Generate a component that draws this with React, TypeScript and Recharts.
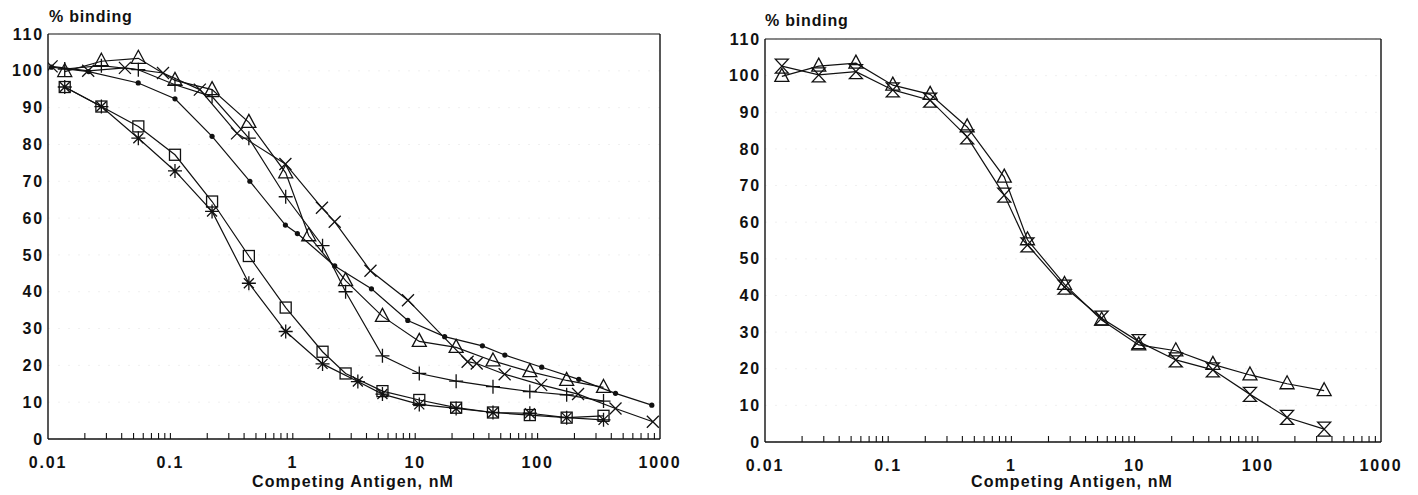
import { LineChart, Line, XAxis, YAxis, CartesianGrid, ReferenceLine } from "recharts";

const FONT = '"Liberation Sans", Arial, Helvetica, sans-serif';
const INK = "#111";

// doses (nM) of the main dilution series
const doseX = [0.0137, 0.0273, 0.0547, 0.109, 0.219, 0.4375, 0.875, 1.35, 2.7, 5.4, 10.8, 21.6, 43.2, 86.4, 172.8, 345.6];
const doseX2 = [0.0137, 0.0273, 0.0547, 0.109, 0.219, 0.4375, 0.875, 1.75, 2.7, 5.4, 10.8, 21.6, 43.2, 86.4, 172.8, 345.6];
const starX = [0.0137, 0.0273, 0.0547, 0.109, 0.219, 0.4375, 0.875, 1.75, 3.4, 5.4, 10.8, 21.6, 43.2, 86.4, 172.8, 345.6];
const crossX = [0.0107, 0.0213, 0.0425, 0.087, 0.174, 0.35, 0.87, 1.73, 2.2, 4.31, 8.73, 26.8, 31.8, 53.8, 107, 214, 433, 874];
const dotX = [0.0107, 0.0215, 0.0546, 0.109, 0.219, 0.446, 0.87, 1.09, 2.2, 4.39, 8.7, 17.4, 35.4, 54, 108, 217, 433, 857];

// % binding values
const triangleY = [99.8, 102.6, 103.4, 97.4, 94.9, 86.0, 72.3, 55.2, 43.0, 33.3, 26.5, 24.9, 21.2, 18.3, 15.9, 14.0];
const hourglassY = [102.6, 100.2, 101.1, 96.1, 93.3, 83.3, 67.4, 53.8, 42.3, 33.8, 27.4, 22.4, 19.7, 13.0, 6.7, 3.5];
const squareY = [95.6, 90.3, 84.9, 77.2, 64.5, 49.7, 35.7, 23.7, 17.8, 13.0, 10.6, 8.5, 7.2, 6.5, 5.8, 6.3];
const starY = [95.6, 90.3, 81.7, 72.8, 61.8, 42.3, 29.2, 20.4, 15.6, 12.2, 9.4, 8.3, 7.2, 7.0, 5.8, 5.2];
const plusY = [100.5, 101.4, 100.3, 96.2, 93.0, 81.7, 65.8, 52.5, 40.0, 22.6, 17.8, 15.7, 14.2, 12.9, 12.0, 10.3];
const crossY = [101.2, 100.0, 100.8, 99.4, 94.9, 83.0, 74.7, 62.8, 59.0, 45.7, 37.7, 21.0, 20.5, 17.6, 14.7, 12.2, 8.3, 4.7];
const dotY = [101.0, 99.8, 96.7, 92.4, 82.2, 70.0, 58.1, 55.8, 47.0, 40.8, 32.2, 27.8, 25.3, 22.8, 19.5, 16.2, 12.4, 9.2];

const decades = [0.01, 0.1, 1, 10, 100, 1000];
const decadeLabels = ["0.01", "0.1", "1", "10", "100", "1000"];
const yTicks = [0, 10, 20, 30, 40, 50, 60, 70, 80, 90, 100, 110];

const xTicks = decades
  .slice(0, -1)
  .flatMap((d) => [1, 2, 3, 4, 5, 6, 7, 8, 9].map((k) => +(d * k).toPrecision(3)))
  .concat([1000]);

type Kind = "tri" | "hour" | "sq" | "star" | "plus" | "cross" | "dot";

const zip = (xs: number[], ys: number[]) => xs.map((x, i) => ({ x, y: ys[i] }));

function marker(kind: Kind, p: any) {
  const { cx, cy, index } = p;
  const key = `${kind}-${index}`;
  if (cx == null || cy == null) return <g key={key} />;
  const s = { stroke: INK, strokeWidth: 1.3, fill: "none" };
  switch (kind) {
    case "tri":
      return <polygon key={key} points={`${cx},${cy - 8} ${cx + 7},${cy + 5} ${cx - 7},${cy + 5}`} {...s} />;
    case "hour":
      return (
        <path
          key={key}
          d={`M${cx - 6.5},${cy - 7} L${cx + 6.5},${cy - 7} L${cx - 6.5},${cy + 7} L${cx + 6.5},${cy + 7} Z`}
          {...s}
        />
      );
    case "sq":
      return <rect key={key} x={cx - 5.5} y={cy - 5.5} width={11} height={11} {...s} />;
    case "plus":
      return <path key={key} d={`M${cx - 7},${cy} H${cx + 7} M${cx},${cy - 7} V${cy + 7}`} {...s} />;
    case "cross":
      return <path key={key} d={`M${cx - 6},${cy - 6} L${cx + 6},${cy + 6} M${cx - 6},${cy + 6} L${cx + 6},${cy - 6}`} {...s} />;
    case "star":
      return (
        <path
          key={key}
          d={`M${cx},${cy - 7} V${cy + 7} M${cx - 7},${cy} H${cx + 7} M${cx - 5},${cy - 5} L${cx + 5},${cy + 5} M${cx - 5},${cy + 5} L${cx + 5},${cy - 5}`}
          {...s}
        />
      );
    default:
      return <circle key={key} cx={cx} cy={cy} r={2.6} fill={INK} stroke="none" />;
  }
}

function XTick(props: any) {
  const { x, y, payload } = props;
  const v = payload.value as number;
  const idx = decades.indexOf(v);
  return (
    <g>
      {v > 0.0101 && v < 999 && <line x1={x} x2={x} y1={y} y2={y - 6} stroke={INK} strokeWidth={1.1} />}
      {idx >= 0 && (
        <text x={x} y={y + 29} textAnchor="middle" fontFamily={FONT} fontWeight={700} fontSize={16} fill={INK} style={{ letterSpacing: 1.8 }}>
          {decadeLabels[idx]}
        </text>
      )}
    </g>
  );
}

interface Series {
  data: { x: number; y: number }[];
  kind: Kind;
}

interface PanelProps {
  left: number;
  width: number;
  margin: { top: number; right: number; bottom: number; left: number };
  series: Series[];
}

function Panel({ left, width, margin, series }: PanelProps) {
  return (
    <div style={{ position: "absolute", left, top: 0 }}>
      <LineChart width={width} height={495} margin={margin}>
        <CartesianGrid vertical={false} stroke="#f0f0f0" strokeDasharray="2 8" />
        <XAxis
          dataKey="x"
          type="number"
          scale="log"
          domain={[0.01, 1000]}
          allowDataOverflow
          ticks={xTicks}
          interval={0}
          tick={<XTick />}
          tickLine={false}
          tickSize={0}
          tickMargin={0}
          height={30}
          axisLine={{ stroke: INK, strokeWidth: 1.4 }}
        />
        <YAxis
          type="number"
          domain={[0, 110]}
          ticks={yTicks}
          interval={0}
          width={48}
          tickLine={false}
          tickSize={0}
          tickMargin={4}
          axisLine={{ stroke: INK, strokeWidth: 1.4 }}
          tick={{ fill: INK, fontSize: 16, fontWeight: 700, fontFamily: FONT, style: { letterSpacing: 1.8 } } as any}
        />
        <ReferenceLine y={110} stroke={INK} strokeWidth={1.2} />
        <ReferenceLine x={1000} stroke={INK} strokeWidth={1.4} />
        {series.map((s, i) => (
          <Line
            key={i}
            data={s.data}
            dataKey="y"
            type="linear"
            stroke={INK}
            strokeWidth={1.2}
            dot={(p: any) => marker(s.kind, p)}
            activeDot={false}
            isAnimationActive={false}
          />
        ))}
      </LineChart>
    </div>
  );
}

const textStyle: React.CSSProperties = {
  position: "absolute",
  fontFamily: FONT,
  fontWeight: 700,
  color: INK,
  whiteSpace: "nowrap",
  lineHeight: "18px",
};

export default function App() {
  const leftSeries: Series[] = [
    { data: zip(dotX, dotY), kind: "dot" },
    { data: zip(crossX, crossY), kind: "cross" },
    { data: zip(doseX2, plusY), kind: "plus" },
    { data: zip(doseX, triangleY), kind: "tri" },
    { data: zip(doseX2, squareY), kind: "sq" },
    { data: zip(starX, starY), kind: "star" },
  ];
  const rightSeries: Series[] = [
    { data: zip(doseX, triangleY), kind: "tri" },
    { data: zip(doseX, hourglassY), kind: "hour" },
  ];
  return (
    <div style={{ position: "fixed", left: 0, top: 0, width: 1418, height: 495, background: "#fff" }}>
      <Panel left={0} width={700} margin={{ top: 34, right: 40, bottom: 26, left: 0 }} series={leftSeries} />
      <Panel left={717} width={701} margin={{ top: 39, right: 37, bottom: 23, left: 0 }} series={rightSeries} />
      <div style={{ ...textStyle, left: 49, top: 8, fontSize: 16, letterSpacing: 0.8 }}>% binding</div>
      <div style={{ ...textStyle, left: 765, top: 12, fontSize: 16, letterSpacing: 0.8 }}>% binding</div>
      <div style={{ ...textStyle, left: 353, top: 473, fontSize: 16, letterSpacing: 1.1, transform: "translateX(-50%)" }}>
        Competing Antigen, nM
      </div>
      <div style={{ ...textStyle, left: 1072, top: 473, fontSize: 16, letterSpacing: 1.1, transform: "translateX(-50%)" }}>
        Competing Antigen, nM
      </div>
    </div>
  );
}
